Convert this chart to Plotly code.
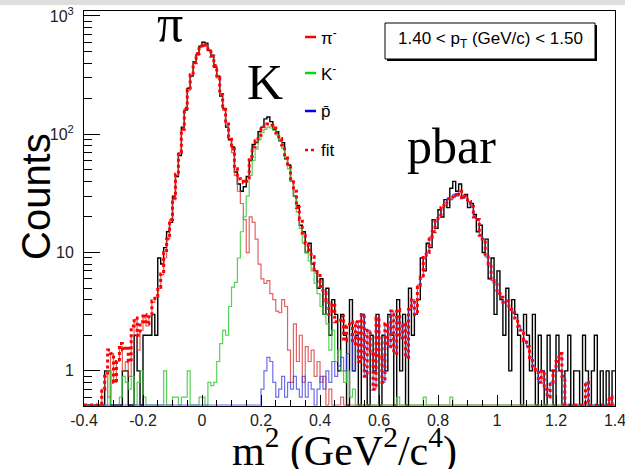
import plotly.graph_objects as go

# ---------------- data (bin width 0.01, range -0.4 .. 1.4) ----------------
BIN_LO = -0.4
BIN_W = 0.01

PION = [
    0.3, 0, 0.4, 0, 0.5, 0.3, 0.7, 0.9, 0.6, 1.4,
    0.8, 1.2, 1.6, 1.0, 1.2, 0.9, 2.0, 2.7, 1.5, 2.2,
    2.8, 2.4, 2.9, 3.8, 4.2, 5.0, 6.5, 9, 13, 19,
    28, 45, 70, 109, 165, 236, 318, 403, 481, 542,
    576, 565, 520, 455, 380, 300, 215, 160, 120, 92,
    70, 45, 33, 26, 19, 10, 20, 18, 13, 8,
    6, 5.5, 5.8, 4.5, 4, 3.2, 3.1, 4, 3.5, 1.5,
    0.8, 2.5, 1.2, 2.0, 0.8, 1.6, 1.2, 1.5, 0.9, 1.2,
    0.8, 0.9, 0.4, 0.7, 0.3, 0.5, 0, 0.6, 0, 0,
] + [0] * 90

KAON = [
    0, 0, 0, 0, 0, 0, 0, 0, 1.0, 0,
    0, 0, 0.6, 0.9, 0.8, 0.7, 0.9, 0, 0.8, 1.0,
    0.6, 0, 0, 0, 0, 0, 0, 1.0, 0, 0,
    0.6, 0.6, 0, 0.6, 0.6, 1.0, 0, 0, 0, 0.6,
    0.6, 0, 0.8, 0.75, 0.8, 1.2, 1.7, 2.2, 2.0, 3.5,
    5.1, 5.6, 9, 15, 20, 30, 45, 60, 75, 90,
    103, 110, 115, 113, 108, 99, 88, 76, 63, 51,
    40, 30, 22, 16, 12, 10, 8.5, 7, 5.5, 4.5,
    3.5, 3, 2.5, 1.5, 2.2, 1.2, 1.5, 1.0, 0.8, 1.0,
    0.6, 0.7, 0, 0, 0, 0, 0, 0, 0, 0,
    0, 0, 0, 0, 0, 0, 0.6, 0, 0, 0,
    0, 0, 0, 0, 0, 0.6, 0, 0, 0, 0,
    0, 0, 0, 0, 0.6, 0, 0, 0, 0, 0,
] + [0] * 50

PBAR = [0] * 60 + [
    0.7, 1.0, 1.3, 1.2, 0.8, 0.6, 0.7, 0.9, 0.6, 0.8,
    0.7, 0.9, 0.7, 0.6, 0.9, 0.6, 0.8, 0.7, 0.5, 0.7,
    0.9, 0.7, 1.0, 0.8, 1.2, 0.9, 1.1, 1.3, 1.0, 1.4,
    2.0, 1.0, 2.6, 1.2, 3.0, 0.9, 2.2, 1.4, 0.7, 2.8,
    1.3, 0.8, 2.5, 1.6, 3.2, 1.4, 2.7, 1.9, 2.5, 1.3,
    3.3, 4.0, 3.0, 5.3, 6.2, 8.9, 10, 13.5, 15, 18.5,
    20.6, 24, 25, 28.5, 28, 31, 30, 33, 29, 30,
    27, 24.5, 20, 19, 14, 13, 9.2, 8, 5.8, 5.6,
    4.5, 4.2, 3.8, 3.9, 3.3, 3.1, 2.8, 2.4, 2.2, 1.8,
    1.6, 1.3, 1.1, 1.0, 0.8, 1.0, 0.7, 0.6, 0.8, 1.0,
    1.2, 1.4, 0.9, 0.3, 0, 0, 0, 0, 0, 0,
    0.8, 0, 0, 0, 0, 0, 0, 0, 0.6, 0,
]

FIT = [
    0.3, 0, 0.4, 0, 0.5, 0.3, 0.7, 0.9, 1.5, 1.4,
    0.8, 1.2, 1.7, 1.5, 1.6, 1.2, 2.4, 2.8, 2.0, 2.6,
    3.0, 2.5, 3.0, 3.9, 4.3, 5.1, 6.6, 10, 13, 19,
    29, 46, 70, 110, 166, 237, 318, 403, 481, 543,
    577, 565, 521, 456, 381, 301, 217, 162, 122, 95,
    75, 51, 42, 40, 39, 40, 65, 78, 88, 98,
    110, 116, 122, 119, 113, 103, 92, 81, 67, 53,
    42, 33, 24, 19, 14, 12, 10.5, 9.2, 6.9, 6.4,
    5.2, 4.6, 3.9, 3.0, 3.7, 2.6, 2.6, 2.9, 1.8, 2.4,
    2.6, 1.7, 2.6, 1.2, 3.0, 0.9, 2.2, 1.4, 0.7, 2.8,
    1.3, 0.8, 2.5, 1.6, 3.2, 1.4, 3.3, 1.9, 2.5, 1.3,
    3.3, 4.0, 3.0, 5.3, 6.2, 9.5, 10, 13.5, 15, 18.5,
    20.6, 24, 25, 28.5, 28.6, 31, 30, 33, 29, 30,
    27, 24.5, 20, 19, 14, 13, 9.2, 8, 5.8, 5.6,
    4.5, 4.2, 3.8, 3.9, 3.3, 3.1, 2.8, 2.4, 2.2, 1.8,
    1.6, 1.3, 1.1, 1.0, 0.8, 1.0, 0.7, 0.6, 0.8, 1.0,
    1.2, 1.4, 0.9, 0.3, 0, 0, 0, 0, 0, 0,
    0.8, 0, 0, 0, 0, 0, 0, 0, 0.6, 0,
]

DATA = [
    0, 0, 0, 0, 0, 0, 0, 1, 1, 0,
    0, 0, 0, 1, 1, 0, 0, 2, 1, 0,
    2, 2, 2, 3, 2, 9, 8, 11, 15, 18,
    30, 44, 66, 115, 160, 245, 310, 410, 470, 555,
    600, 590, 510, 465, 370, 310, 210, 165, 115, 90,
    78, 48, 38, 33, 36, 44, 60, 82, 85, 105,
    115, 135, 140, 128, 110, 105, 88, 85, 62, 55,
    40, 30, 25, 17, 15, 10, 12, 8, 7, 5,
    6, 3, 5, 2, 4, 3, 1, 3, 2, 0,
    4, 1, 2, 0, 3, 1, 0, 2, 1, 3,
    0, 2, 1, 3, 2, 0, 4, 1, 3, 0,
    5, 2, 3, 4, 9, 7, 12, 11, 19, 16,
    23, 20, 28, 24, 35, 40, 33, 38, 29, 31,
    24, 26, 21, 15, 17, 10, 13, 6, 9, 3,
    7, 4, 2, 5, 1, 4, 3, 2, 0, 3,
    2, 1, 3, 0, 2, 1, 0, 2, 1, 0,
    2, 1, 0, 1, 2, 0, 1, 1, 0, 2,
    1, 0, 1, 2, 0, 1, 0, 1, 0, 1,
]

X_TICKS = [-0.4, -0.2, 0, 0.2, 0.4, 0.6, 0.8, 1, 1.2, 1.4]
X_TICKTEXT = ["-0.4", "-0.2", "0", "0.2", "0.4", "0.6", "0.8", "1", "1.2", "1.4"]
Y_TICKS = [1, 10, 100, 1000]
Y_TICKTEXT = ["1", "10", "10<sup>2</sup>", "10<sup>3</sup>"]

LEGEND_LABELS = ["π<sup>-</sup>", "K<sup>-</sup>", "p\u0304", "fit"]
LEGEND_COLORS = ["rgb(255,0,0)", "rgb(0,220,0)", "rgb(0,0,255)", "rgb(255,0,0)"]

# ---------------- geometry ----------------
Y_LOG_RANGE = [-0.297, 3.042]
YMIN = 10 ** Y_LOG_RANGE[0]
N = len(DATA)
edges = [BIN_LO + BIN_W * i for i in range(N + 1)]


def step(vals):
    ys = [max(v, YMIN * 1.02) for v in vals]
    return edges, ys + [ys[-1]]


SANS = "Liberation Sans, Arial, sans-serif"
SERIF = "Liberation Serif, Times New Roman, serif"

fig = go.Figure()
series = [
    (DATA, "black", 1.4, "solid", "data"),
    (PION, "rgba(215,60,60,0.8)", 1.2, "solid", "pion"),
    (KAON, "rgba(60,200,60,0.85)", 1.2, "solid", "kaon"),
    (PBAR, "rgba(60,60,230,0.75)", 1.2, "solid", "pbar"),
    (FIT, "rgb(255,0,0)", 3, "dot", "fit"),
]
for vals, col, w, dash, name in series:
    xs, ys = step(vals)
    fig.add_trace(go.Scatter(x=xs, y=ys, mode="lines", name=name,
                             line=dict(color=col, width=w, dash=dash, shape="hv"),
                             hoverinfo="skip", showlegend=False))

# minor tick positions (skip the major ones)
y_minor = []
for dec in [0.1, 1, 10, 100]:
    for m in range(2, 10):
        v = dec * m
        if YMIN < v < 1100:
            y_minor.append(v)
x_minor = [round(-0.4 + 0.05 * k, 3) for k in range(37) if k % 4 != 0]

fig.update_layout(
    width=625, height=469,
    margin=dict(l=84, r=10, t=11, b=63, autoexpand=False),
    paper_bgcolor="white", plot_bgcolor="white",
    showlegend=False,
    xaxis=dict(range=[-0.4, 1.4], showline=True, mirror=True, linecolor="black", linewidth=1,
               automargin=False,
               ticks="inside", ticklen=11, tickcolor="black", tickwidth=1,
               tickmode="array", tickvals=X_TICKS, ticktext=X_TICKTEXT,
               tickfont=dict(family=SANS, size=16, color="#222"),
               ticklabeloverflow="allow",
               showgrid=False, zeroline=False,
               minor=dict(tickmode="array", tickvals=x_minor, ticks="inside", ticklen=6,
                          tickcolor="black", showgrid=False)),
    yaxis=dict(type="log", range=Y_LOG_RANGE, showline=True, mirror=True, linecolor="black",
               linewidth=1, automargin=False,
               ticks="inside", ticklen=16, tickcolor="black", tickwidth=1,
               tickmode="array", tickvals=Y_TICKS, ticktext=Y_TICKTEXT,
               tickfont=dict(family=SANS, size=16, color="#222"),
               ticklabelstandoff=6, ticklabeloverflow="allow",
               showgrid=False, zeroline=False,
               minor=dict(tickmode="array", tickvals=y_minor, ticks="inside", ticklen=8,
                          tickcolor="black", showgrid=False)),
)

PW, PH, PL, PB = 531.0, 395.0, 84.0, 406.0


def px(x):
    return (x - PL) / PW


def py(y):
    return (PB - y) / PH


annotations = [
    dict(text="π", x=px(170), y=py(24), font=dict(family=SERIF, size=52, color="black")),
    dict(text="K", x=px(265), y=py(82), font=dict(family=SERIF, size=50, color="black")),
    dict(text="pbar", x=px(451), y=py(146), font=dict(family=SERIF, size=50, color="black")),
    dict(text="Counts", x=px(36), y=py(197), textangle=-90,
         font=dict(family=SANS, size=40, color="black")),
    dict(text="m<sup>2</sup> (GeV<sup>2</sup>/c<sup>4</sup>)", x=px(344), y=py(448),
         font=dict(family=SERIF, size=42, color="black")),
    dict(text="1.40 &lt; p<sub>T</sub> (GeV/c) &lt; 1.50", x=px(490), y=py(40),
         font=dict(family=SANS, size=17, color="black")),
]
for a in annotations:
    a.update(xref="paper", yref="paper", showarrow=False, xanchor="center", yanchor="middle")

shapes = [
    # text box shadow + box
    dict(type="rect", xref="paper", yref="paper", x0=px(387), x1=px(597), y0=py(61), y1=py(25),
         fillcolor="black", line=dict(width=0)),
    dict(type="rect", xref="paper", yref="paper", x0=px(385), x1=px(595), y0=py(59), y1=py(23),
         fillcolor="white", line=dict(color="black", width=1)),
    # faint top band
    dict(type="rect", xref="paper", yref="paper", x0=-PL / PW, x1=1 + 10 / PW, y0=py(5), y1=py(0),
         fillcolor="rgb(222,222,222)", line=dict(width=0), layer="below"),
]

LEG_Y = [37, 73, 111, 150]
for lab, col, ly in zip(LEGEND_LABELS, LEGEND_COLORS, LEG_Y):
    dash = "dot" if lab == "fit" else "solid"
    shapes.append(dict(type="line", xref="paper", yref="paper", x0=px(305), x1=px(316),
                       y0=py(ly), y1=py(ly), line=dict(color=col, width=2.5, dash=dash)))
    annotations.append(dict(text=lab, x=px(319), y=py(ly), xref="paper", yref="paper",
                            showarrow=False, xanchor="left", yanchor="middle",
                            font=dict(family=SANS, size=17, color="black")))

fig.update_layout(annotations=annotations, shapes=shapes)
fig.write_html("out.html")
